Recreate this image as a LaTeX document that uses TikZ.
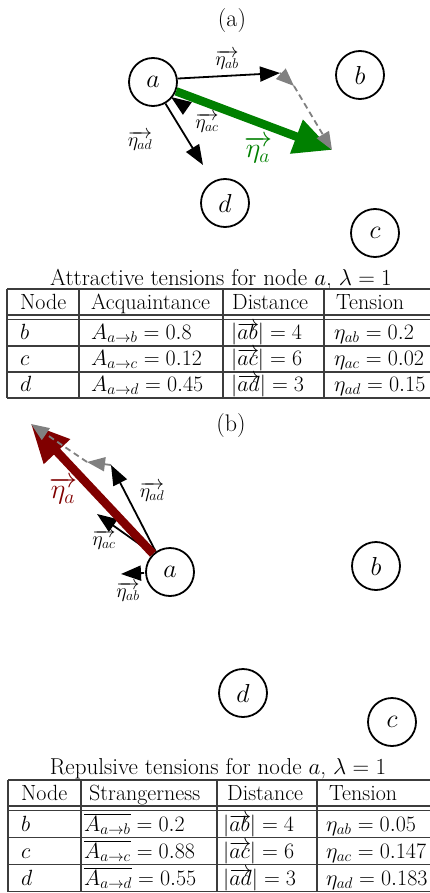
\RequirePackage{fix-cm}
\documentclass[tikz,border=0pt]{standalone}
\usetikzlibrary{arrows.meta}
\definecolor{dgreen}{RGB}{0,128,0}
\definecolor{dred}{RGB}{128,0,0}
\definecolor{tgray}{RGB}{60,60,60}
\newcommand\ovr[1]{\mathord{\hbox{\setbox0=\hbox{$#1$}\rlap{\raisebox{0.4em}{\hbox to\wd0{\rightarrowfill}}}\box0}}}
\begin{document}
\begin{tikzpicture}[x=1pt,y=-1pt,
  vtx/.style={circle,draw,line width=1.8pt,minimum size=48pt,inner sep=0pt,font=\fontsize{26}{30}\selectfont},
  arr/.style={line width=1.8pt,-{Triangle[length=20pt,width=15pt]}},
  garr/.style={draw=gray,line width=1.8pt,-{Triangle[length=18pt,width=14pt,fill=gray]}},
  gdash/.style={draw=gray,line width=1.8pt,dash pattern=on 6pt off 4pt,-{Triangle[length=18pt,width=14pt,fill=gray]}},
  bigarr/.style={line width=8.5pt,-{Triangle[length=38pt,width=34pt]}},
  lab/.style={font=\fontsize{20}{24}\selectfont,inner sep=0pt},
  biglab/.style={font=\fontsize{28}{32}\selectfont,inner sep=0pt},
  panelcap/.style={font=\fontsize{24}{28}\selectfont,inner sep=0pt,anchor=base},
  ttl/.style={font=\fontsize{23}{27}\selectfont,inner sep=0pt,anchor=base},
  cell/.style={font=\fontsize{22}{26}\selectfont,inner sep=0pt,anchor=base west},
  tline/.style={draw=tgray,line width=1.3pt}
]
\useasboundingbox (0,0) rectangle (430,893);
\clip (0,0) rectangle (430,893);

% ================= (a) =================
\node[panelcap] (capa) at (232,27) {(a)};
\node[vtx] (a1) at (153,82) {$a$};
\node[vtx] (b1) at (360,75) {$b$};
\node[vtx] (d1) at (225,203) {$d$};
\node[vtx] (c1) at (375,233) {$c$};

\coordinate (ab1tip) at (280,73);
\coordinate (ad1tip) at (203,165);
\coordinate (ac1s) at (186,107.5);
\coordinate (ac1tip) at (171,97);
\coordinate (g1tip) at (294,86);
\coordinate (a1tip) at (332,150);

\draw[arr] (a1.8) -- (ab1tip);
\draw[arr] (a1.-60) -- (ad1tip);
\draw[arr] (ac1s) -- (ac1tip);
\draw[bigarr,dgreen] (a1.-22) -- (a1tip);
\draw[garr] (ab1tip) -- (g1tip);
\draw[gdash] (g1tip) -- (a1tip);

\node[lab] (lab1ab) at (227,60) {$\overrightarrow{\eta_{ab}}$};
\node[lab] (lab1ac) at (207,123) {$\overrightarrow{\eta_{ac}}$};
\node[lab] (lab1ad) at (140,141) {$\overrightarrow{\eta_{ad}}$};
\node[biglab,text=dgreen] (lab1a) at (258,150) {$\overrightarrow{\eta_{a}}$};

% ----- table (a) -----
\node[ttl] (ta) at (221,285) {Attractive tensions for node $a$, $\lambda=1$};
\draw[tline] (7,289) -- (440,289);
\draw[tline] (7,315) -- (440,315);
\draw[tline] (7,319.5) -- (440,319.5);
\draw[tline] (7,346) -- (440,346);
\draw[tline] (7,372) -- (440,372);
\draw[tline] (7,398) -- (440,398);
\draw[tline] (7,289) -- (7,398);
\draw[tline] (79,289) -- (79,398);
\draw[tline] (223,289) -- (223,398);
\draw[tline] (324,289) -- (324,398);

\node[cell] (ta01) at (20,309) {Node};
\node[cell] (ta02) at (91,309) {Acquaintance};
\node[cell] (ta03) at (232,309) {Distance};
\node[cell] (ta04) at (336,309) {Tension};

\node[cell] (ta11) at (20,339) {$b$};
\node[cell] (ta12) at (91,339) {$A_{a\rightarrow b}=0.8$};
\node[cell] (ta13) at (231,339) {$|\ovr{ab}|=4$};
\node[cell] (ta14) at (334,339) {$\eta_{ab}=0.2$};

\node[cell] (ta21) at (20,365) {$c$};
\node[cell] (ta22) at (91,365) {$A_{a\rightarrow c}=0.12$};
\node[cell] (ta23) at (231,365) {$|\ovr{ac}|=6$};
\node[cell] (ta24) at (334,365) {$\eta_{ac}=0.02$};

\node[cell] (ta31) at (20,391) {$d$};
\node[cell] (ta32) at (91,391) {$A_{a\rightarrow d}=0.45$};
\node[cell] (ta33) at (231,391) {$|\ovr{ad}|=3$};
\node[cell] (ta34) at (334,391) {$\eta_{ad}=0.15$};

% ================= (b) =================
\node[panelcap] (capb) at (231,431) {(b)};
\node[vtx] (a2) at (170,572) {$a$};
\node[vtx] (b2) at (376,566) {$b$};
\node[vtx] (d2) at (243,693) {$d$};
\node[vtx] (c2) at (392,722) {$c$};

\coordinate (ab2tip) at (121,574);
\coordinate (ac2tip) at (97,514);
\coordinate (ad2tip) at (111,465);
\coordinate (g2tip) at (87,462);
\coordinate (a2tip) at (31,424);

\draw[arr] (a2.west) ++(-1,1) -- (ab2tip);
\draw[arr] (a2.133) -- (ac2tip);
\draw[arr] (a2.125) -- (ad2tip);
\draw[bigarr,dred] (a2.133) -- (a2tip);
\draw[garr] (ad2tip) -- (g2tip);
\draw[gdash] (g2tip) -- (a2tip);

\node[lab] (lab2ab) at (128,592) {$\overrightarrow{\eta_{ab}}$};
\node[lab] (lab2ac) at (104,540) {$\overrightarrow{\eta_{ac}}$};
\node[lab] (lab2ad) at (152,492) {$\overrightarrow{\eta_{ad}}$};
\node[biglab,text=dred] (lab2a) at (63,491) {$\overrightarrow{\eta_{a}}$};

% ----- table (b) -----
\node[ttl] (tb) at (218,774) {Repulsive tensions for node $a$, $\lambda=1$};
\draw[tline] (8,780) -- (440,780);
\draw[tline] (8,806) -- (440,806);
\draw[tline] (8,810.5) -- (440,810.5);
\draw[tline] (8,837.5) -- (440,837.5);
\draw[tline] (8,864.5) -- (440,864.5);
\draw[tline] (8,891.5) -- (440,891.5);
\draw[tline] (8,780) -- (8,891.5);
\draw[tline] (81,780) -- (81,891.5);
\draw[tline] (217,780) -- (217,891.5);
\draw[tline] (317,780) -- (317,891.5);

\node[cell] (tb01) at (21,800) {Node};
\node[cell] (tb02) at (89,800) {Strangerness};
\node[cell] (tb03) at (227,800) {Distance};
\node[cell] (tb04) at (329,800) {Tension};

\node[cell] (tb11) at (21,831) {$b$};
\node[cell] (tb12) at (84,831) {$\overline{A_{a\rightarrow b}}=0.2$};
\node[cell] (tb13) at (223,831) {$|\ovr{ab}|=4$};
\node[cell] (tb14) at (326,831) {$\eta_{ab}=0.05$};

\node[cell] (tb21) at (21,858) {$c$};
\node[cell] (tb22) at (84,858) {$\overline{A_{a\rightarrow c}}=0.88$};
\node[cell] (tb23) at (223,858) {$|\ovr{ac}|=6$};
\node[cell] (tb24) at (326,858) {$\eta_{ac}=0.147$};

\node[cell] (tb31) at (21,885) {$d$};
\node[cell] (tb32) at (84,885) {$\overline{A_{a\rightarrow d}}=0.55$};
\node[cell] (tb33) at (223,885) {$|\ovr{ad}|=3$};
\node[cell] (tb34) at (326,885) {$\eta_{ad}=0.183$};
\end{tikzpicture}
\end{document}
